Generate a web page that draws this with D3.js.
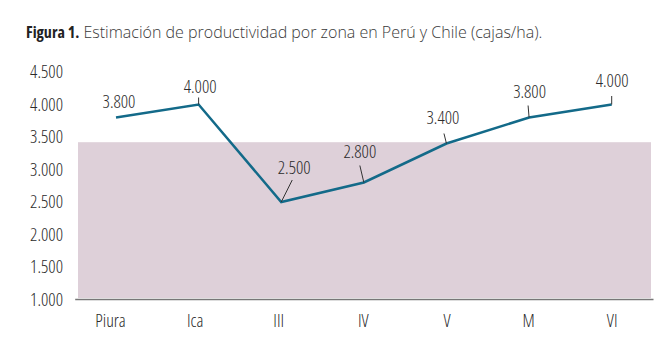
<!DOCTYPE html>
<html>
<head>
<meta charset="utf-8">
<script src="https://cdn.jsdelivr.net/npm/d3@7"></script>
<style>
  html, body { margin: 0; padding: 0; background: #ffffff; }
  svg { display: block; }
  text { font-family: "Open Sans", sans-serif; fill: #2b2b2b; font-stretch: 87.5%; font-weight: 350; }
</style>
</head>
<body>
<svg id="chart" width="670" height="356"></svg>
<script>
// ---- data ----
const categories = ["Piura", "Ica", "III", "IV", "V", "M", "VI"];
const values = [3800, 4000, 2500, 2800, 3400, 3800, 4000];
const yTicks = [1000, 1500, 2000, 2500, 3000, 3500, 4000, 4500];
const shadeTop = 3420;
const titleBold = "Figura 1.";
const titleRest = " Estimación de productividad por zona en Perú y Chile (cajas/ha).";

// ---- layout (label offsets relative to each point; leader end offsets) ----
const labelOffsets = [
  { dx: 3,  dy: -10,  lx: 0,  ly: 0,   leader: false },
  { dx: 1.5, dy: -11.5, lx: 0, ly: -7, leader: true },
  { dx: 13, dy: -28,  lx: 11, ly: -22, leader: true },
  { dx: -4, dy: -25,  lx: -4, ly: -17, leader: true },
  { dx: -3.5, dy: -19.5, lx: -2.5, ly: -10, leader: true },
  { dx: 0.5, dy: -20, lx: -1, ly: -12, leader: true },
  { dx: 0.5, dy: -17.5, lx: 0, ly: -8.5, leader: true }
];
const xLabelShift = [-6, -4, -3, -1, 0, -1, 0];

const svg = d3.select("#chart");
const locale = d3.formatLocale({ decimal: ",", thousands: ".", grouping: [3], currency: ["", ""] });
const fmt = locale.format(",.0f");

const x = d3.scalePoint().domain(categories).range([74.7, 653]).padding(0.5);
const y = d3.scaleLinear().domain([1000, 4500]).range([299.5, 72]);

// title
const title = svg.append("text").attr("x", 26).attr("y", 37.5).style("font-size", "16px");
title.append("tspan").text(titleBold).style("font-weight", "700").style("fill", "#222");
title.append("tspan").text(titleRest).style("fill", "#3a3a3a").style("font-stretch", "100%").style("font-weight", "300");

// shaded area
svg.append("rect")
  .attr("x", 78).attr("width", 651 - 78)
  .attr("y", y(shadeTop)).attr("height", 298 - y(shadeTop))
  .attr("fill", "#ded0d9");

// y axis (labels only)
const yAxis = d3.axisLeft(y).tickValues(yTicks).tickFormat(fmt).tickSize(0).tickPadding(0);
const gy = svg.append("g").attr("transform", "translate(63,0)").call(yAxis);
gy.select(".domain").remove();
gy.selectAll("text").style("font-size", "18px").attr("fill", "#2b2b2b").style("font-family", null);

// x axis
const xAxis = d3.axisBottom(x).tickSize(0).tickPadding(15);
const gx = svg.append("g").attr("transform", "translate(0,299)").call(xAxis);
gx.select(".domain").attr("stroke", "#777").attr("stroke-width", 1.5);
gx.selectAll("text").style("font-size", "18px").attr("fill", "#2b2b2b").style("font-family", null)
  .attr("dx", (d, i) => xLabelShift[i]);

// line
const line = d3.line().x((d, i) => x(categories[i])).y(d => y(d));
svg.append("path").datum(values)
  .attr("d", line)
  .attr("fill", "none")
  .attr("stroke", "#136a89")
  .attr("stroke-width", 2.5)
  .attr("stroke-linejoin", "miter");

// leaders
svg.append("g").selectAll("line")
  .data(values.map((v, i) => ({ v, i, o: labelOffsets[i] })).filter(d => d.o.leader))
  .join("line")
  .attr("x1", d => x(categories[d.i])).attr("y1", d => y(d.v))
  .attr("x2", d => x(categories[d.i]) + d.o.lx).attr("y2", d => y(d.v) + d.o.ly)
  .attr("stroke", "#333").attr("stroke-width", 1);

// value labels
svg.append("g").selectAll("text")
  .data(values)
  .join("text")
  .attr("x", (d, i) => x(categories[i]) + labelOffsets[i].dx)
  .attr("y", (d, i) => y(d) + labelOffsets[i].dy)
  .attr("text-anchor", "middle")
  .style("font-size", "18px")
  .text(d => fmt(d));
</script>
</body>
</html>
